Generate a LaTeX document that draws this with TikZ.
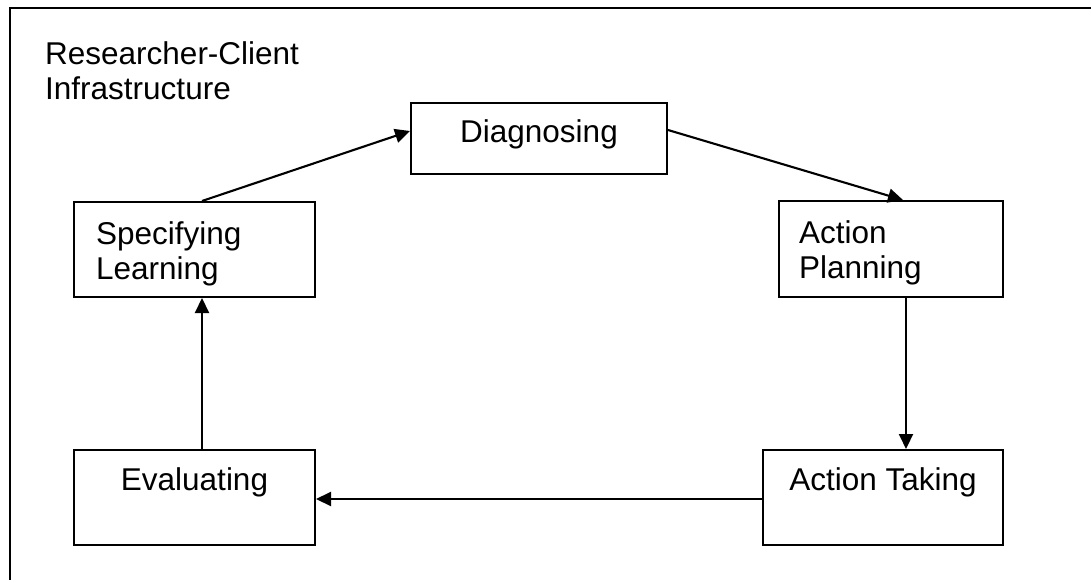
\documentclass[tikz,border=0pt]{standalone}
\usepackage{fontspec}
\setmainfont{Liberation Sans}
\usetikzlibrary{arrows.meta}
\begin{document}
\begin{tikzpicture}[x=1pt,y=-1pt,
  box/.style={draw,line width=2pt,inner sep=0pt,anchor=north west,font=\fontsize{31.5}{35}\selectfont},
  conn/.style={line width=2.1pt,-{Triangle[length=15pt,width=14pt]}},
  frame/.style={line width=2.5pt}]
\useasboundingbox (0,0) rectangle (1091,580);
\coordinate (fb) at (10,585);
\coordinate (ft) at (10,8);
\coordinate (fr) at (1096,8);
\draw[frame] (fb) -- (ft) -- (fr);
\node[inner sep=0pt,anchor=base west,font=\fontsize{31.5}{35}\selectfont] (title) at (45,65)
  {\parbox[t]{320pt}{\raggedright Researcher-Client\\Infrastructure}};
\node[box] (diag) at (410,102) {\parbox[t][71pt][t]{256pt}{\centering\rule{0pt}{40pt}Diagnosing}};
\node[box] (ap) at (778,200) {\parbox[t][96pt][t]{224pt}{\raggedright\leftskip=20pt\rule{0pt}{42pt}Action\\Planning}};
\node[box] (sl) at (73,201) {\parbox[t][95pt][t]{241pt}{\raggedright\leftskip=22pt\rule{0pt}{42pt}Specifying\\Learning}};
\node[box] (ev) at (73,449) {\parbox[t][95pt][t]{241pt}{\centering\rule{0pt}{40pt}Evaluating}};
\node[box] (at) at (762,449) {\parbox[t][95pt][t]{240pt}{\centering\rule{0pt}{40pt}Action Taking}};
\draw[conn] ([xshift=129pt]sl.north west) -- ([yshift=-29pt]diag.north west);
\draw[conn] ([yshift=-28pt]diag.north east) -- ([xshift=125pt]ap.north west);
\draw[conn] ([xshift=128pt]ap.south west) -- ([xshift=144pt]at.north west);
\draw[conn] ([yshift=47pt]at.south west) -- ([yshift=47pt]ev.south east);
\draw[conn] ([xshift=129pt]ev.north west) -- ([xshift=129pt]sl.south west);
\end{tikzpicture}
\end{document}
